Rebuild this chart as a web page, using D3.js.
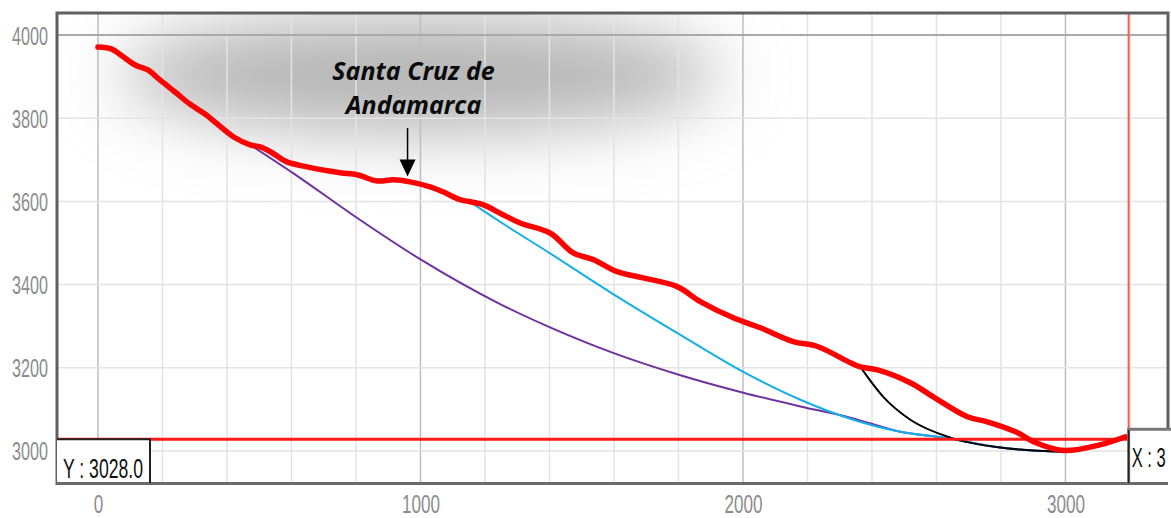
<!DOCTYPE html>
<html>
<head>
<meta charset="utf-8">
<script src="https://cdn.jsdelivr.net/npm/d3@7"></script>
<style>
	body{margin:0;background:#fff;}
	svg{display:block;}
	.tick text{font-family:"Liberation Sans",sans-serif;fill:#8c8c8c;}
</style>
</head>
<body>
<svg width="1171" height="518"></svg>
<script>
// ground profile (distance m, altitude m)
const profileX = [0,43,74,115,155,192,239,285,332,378,425,472,503,540,586,648,751,804,866,915,968,1030,1070,1123,1154,1194,1256,1309,1402,1474,1536,1610,1691,1796,1868,1970,2054,2156,2231,2333,2364,2417,2519,2590,2696,2758,2851,2901,2994,3109,3186];
const profileY = [3971,3966,3950,3928,3916,3892,3863,3834,3810,3781,3753,3736,3731,3717,3695,3683,3669,3664,3649,3652,3647,3635,3623,3604,3599,3592,3568,3548,3524,3476,3460,3431,3416,3395,3359,3320,3296,3263,3251,3212,3202,3195,3164,3130,3082,3070,3044,3022,3001,3015,3034];

// trajectories
const purpleX = [472,605,804,999,1247,1402,1610,1806,2001,2178,2333,2488,2622,2798,2994];
const purpleY = [3736,3668,3560,3461,3353,3297,3232,3182,3140,3107,3080,3046,3032,3008,2998];
const blueX = [1154,1247,1402,1610,1806,2001,2178,2342,2488,2622,2798,2994];
const blueY = [3599,3551,3475,3371,3279,3190,3123,3075,3046,3032,3008,2998];
const blackX = [2364,2435,2519,2643,2798,2994];
const blackY = [3202,3130,3075,3032,3008,2998];

const xTicks = [0,1000,2000,3000];
const yTicks = [3000,3200,3400,3600,3800,4000];
const xGrid = d3.range(0,3201,200);
const yGrid = [3000,3200,3400,3600,3800,4000];

const cursorX = 3196, cursorY = 3028.0;
const label = {text:["Santa Cruz de","Andamarca"], x:960, y:3660};

const svg = d3.select("svg");
const m = {left:57, right:1168, top:13, bottom:485};
const x = d3.scaleLinear().domain([-127,3318]).range([m.left,m.right]);
const y = d3.scaleLinear().domain([2918,4053]).range([m.bottom,m.top]);

const defs = svg.append("defs");
defs.append("clipPath").attr("id","plot")
	.append("rect").attr("x",m.left).attr("y",m.top).attr("width",m.right-m.left).attr("height",m.bottom-m.top);
defs.append("filter").attr("id","blur").attr("x","-50%").attr("y","-100%").attr("width","200%").attr("height","300%")
	.append("feGaussianBlur").attr("stdDeviation",34);
defs.append("filter").attr("id","soft")
	.append("feGaussianBlur").attr("stdDeviation",0.7);

const plot = svg.append("g").attr("clip-path","url(#plot)");

// grey shadow behind the title
plot.append("ellipse")
	.attr("cx",x(1000)).attr("cy",y(3905))
	.attr("rx",300).attr("ry",58)
	.attr("fill","#b4b4b4")
	.attr("filter","url(#blur)");

// grid
plot.selectAll(".vg").data(xGrid).join("line")
	.attr("x1",d=>x(d)).attr("x2",d=>x(d))
	.attr("y1",m.top).attr("y2",m.bottom)
	.attr("stroke",d=>d%1000===0 ? "#bdbdbd" : "#e3e3e3")
	.attr("stroke-width",1.5);
plot.selectAll(".hg").data(yGrid).join("line")
	.attr("x1",m.left).attr("x2",m.right)
	.attr("y1",d=>y(d)).attr("y2",d=>y(d))
	.attr("stroke",d=>d===4000 ? "#a9a9a9" : "#e3e3e3")
	.attr("stroke-width",d=>d===4000 ? 2 : 1.5);

const line = d3.line().x(d=>x(d[0])).y(d=>y(d[1])).curve(d3.curveCatmullRom.alpha(0.5));
const smooth = d3.line().x(d=>x(d[0])).y(d=>y(d[1])).curve(d3.curveMonotoneX);
const zip = (a,b) => a.map((v,i)=>[v,b[i]]);

plot.append("path").datum(zip(purpleX,purpleY)).attr("d",smooth)
	.attr("fill","none").attr("stroke","#7030a0").attr("stroke-width",2);
plot.append("path").datum(zip(blueX,blueY)).attr("d",smooth)
	.attr("fill","none").attr("stroke","#14aee8").attr("stroke-width",2);
plot.append("path").datum(zip(blackX,blackY)).attr("d",smooth)
	.attr("fill","none").attr("stroke","#000").attr("stroke-width",2);

// cursor lines
plot.append("line")
	.attr("x1",x(cursorX)).attr("x2",x(cursorX))
	.attr("y1",m.top).attr("y2",y(cursorY))
	.attr("stroke","#ff5a5a").attr("stroke-width",2);
plot.append("line")
	.attr("x1",m.left).attr("x2",x(cursorX))
	.attr("y1",y(cursorY)).attr("y2",y(cursorY))
	.attr("stroke","#ff1a1a").attr("stroke-width",3);

plot.append("path").datum(zip(profileX,profileY)).attr("d",line)
	.attr("fill","none").attr("stroke","#ff0000").attr("stroke-width",5.5)
	.attr("stroke-linejoin","round").attr("stroke-linecap","round")
	.attr("filter","url(#soft)");

// frame
svg.append("path")
	.attr("d",`M${m.left},${m.bottom}V${m.top}H${m.right}V${y(cursorY)-10}`)
	.attr("fill","none").attr("stroke","#5f5f5f").attr("stroke-width",3);
svg.append("line")
	.attr("x1",m.left).attr("x2",m.right).attr("y1",m.bottom-1.5).attr("y2",m.bottom-1.5)
	.attr("stroke","#6a6a6a").attr("stroke-width",3);

// cursor boxes
const narrow = (sel, w) => sel.attr("textLength",w).attr("lengthAdjust","spacingAndGlyphs");

const yBox = svg.append("g");
yBox.append("rect").attr("x",m.left).attr("y",y(cursorY)).attr("width",93).attr("height",m.bottom-y(cursorY)-3)
	.attr("fill","#fff");
yBox.append("path").attr("d",`M${m.left},${y(cursorY)}H${m.left+93}V${m.bottom-2}`)
	.attr("fill","none").attr("stroke","#222").attr("stroke-width",2);
yBox.append("text").attr("x",m.left+6).attr("y",478)
	.attr("font-family","Liberation Sans, sans-serif")
	.attr("font-size",28).attr("fill","#111")
	.text("Y : " + cursorY.toFixed(1))
	.call(narrow,80);

const xBox = svg.append("g");
xBox.append("rect").attr("x",x(cursorX)).attr("y",y(cursorY)-10).attr("width",60).attr("height",m.bottom-y(cursorY)+7)
	.attr("fill","#fff");
xBox.append("path").attr("d",`M${x(cursorX)+60},${y(cursorY)-10}H${x(cursorX)}V${m.bottom-2}`)
	.attr("fill","none").attr("stroke","#777").attr("stroke-width",3);
xBox.append("line").attr("x1",x(cursorX)).attr("x2",x(cursorX)).attr("y1",y(cursorY)-9).attr("y2",m.bottom-2)
	.attr("stroke","#222").attr("stroke-width",1.5);
xBox.append("text").attr("x",x(cursorX)+3).attr("y",467)
	.attr("font-family","Liberation Sans, sans-serif")
	.attr("font-size",28).attr("fill","#111")
	.text("X : 3")
	.call(narrow,34);

// axes
const gy = svg.append("g").attr("transform",`translate(${m.left-9},0)`)
	.call(d3.axisLeft(y).tickValues(yTicks).tickSize(0).tickPadding(0).tickFormat(d3.format("d")));
gy.select(".domain").remove();
gy.selectAll("text").attr("font-size",25).attr("dy","0.36em")
	.each(function(d){ narrow(d3.select(this), String(d).length*9); });

const gx = svg.append("g").attr("transform",`translate(0,${m.bottom})`)
	.call(d3.axisBottom(x).tickValues(xTicks).tickSize(0).tickPadding(0).tickFormat(d3.format("d")));
gx.select(".domain").remove();
gx.selectAll("text").attr("font-size",26).attr("dy",0).attr("y",28)
	.each(function(d){ narrow(d3.select(this), String(d).length*9.5); });

// annotation
const ann = svg.append("g");
ann.selectAll("text").data(label.text).join("text")
	.attr("x",x(label.x)+6)
	.attr("y",(d,i)=>80+i*34)
	.attr("text-anchor","middle")
	.attr("font-family","Open Sans, sans-serif")
	.attr("font-style","italic").attr("font-weight","bold")
	.attr("font-size",25).attr("fill","#0a0a0a")
	.text(d=>d);
ann.append("line")
	.attr("x1",x(label.x)).attr("x2",x(label.x))
	.attr("y1",128).attr("y2",y(label.y)-14)
	.attr("stroke","#000").attr("stroke-width",1.5);
ann.append("path")
	.attr("d",`M${x(label.x)-8},${y(label.y)-17}H${x(label.x)+8}L${x(label.x)},${y(label.y)}Z`)
	.attr("fill","#000");
</script>
</body>
</html>
